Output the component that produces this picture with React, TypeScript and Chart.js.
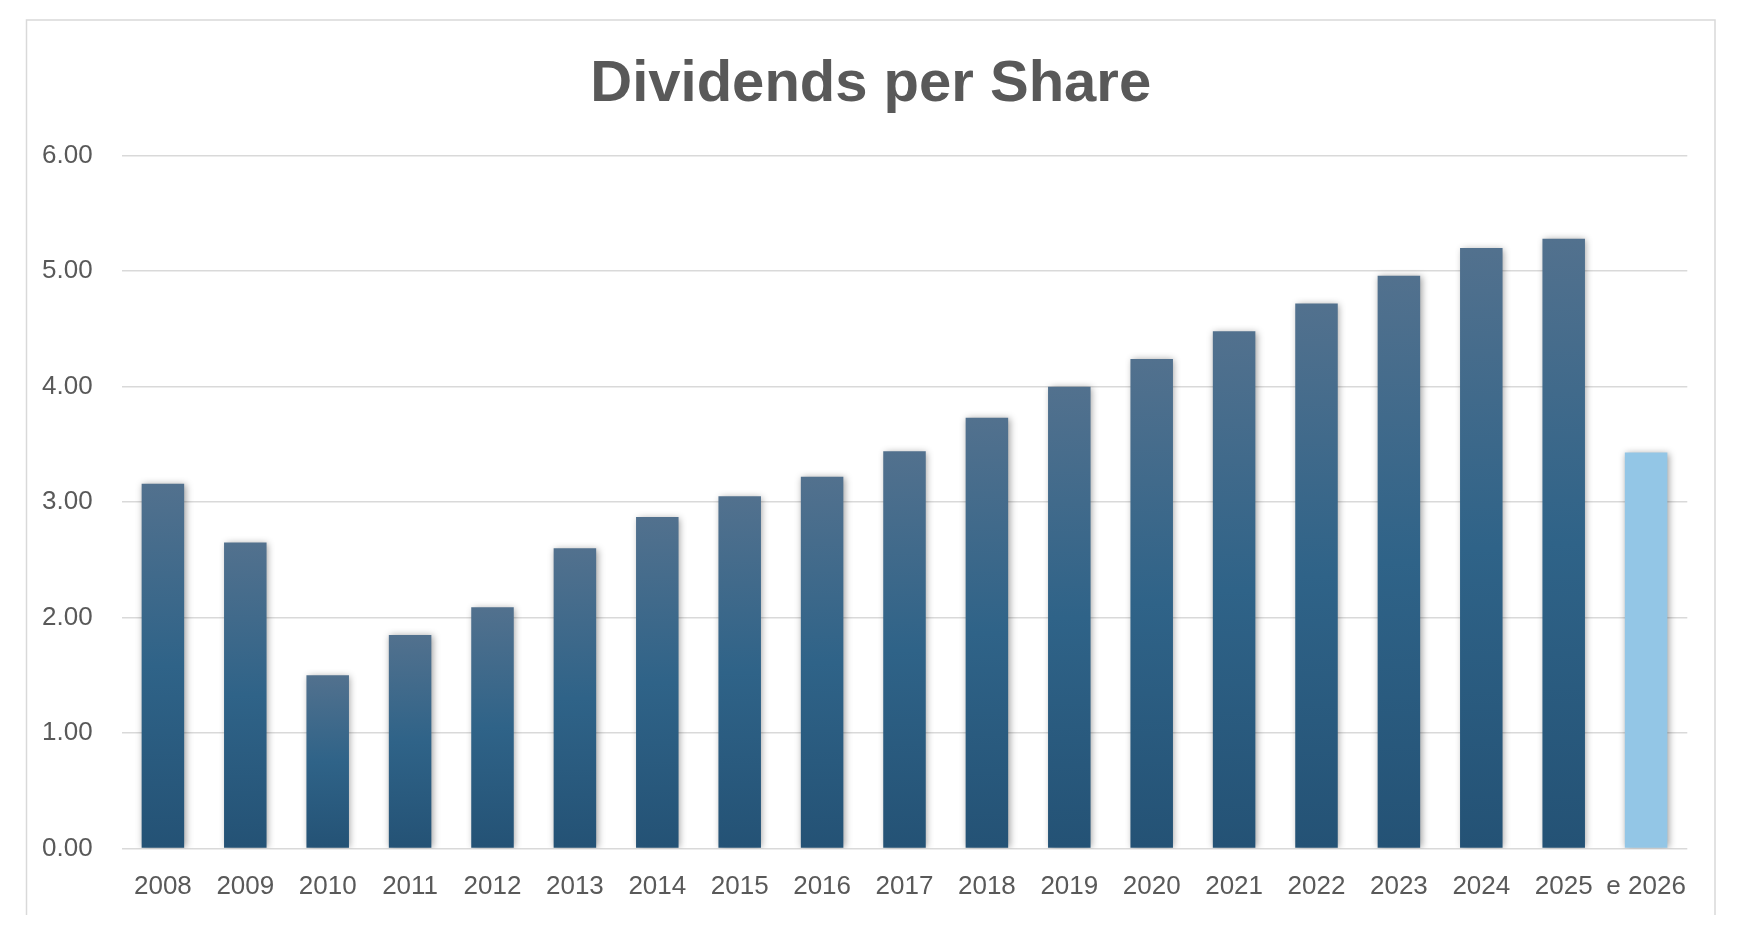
import React, { useEffect, useRef } from "react";
import { Chart, registerables } from "chart.js";

Chart.register(...registerables);

const TITLE = "Dividends per Share";
const categories = [
  "2008", "2009", "2010", "2011", "2012", "2013", "2014", "2015", "2016", "2017",
  "2018", "2019", "2020", "2021", "2022", "2023", "2024", "2025", "e 2026",
];
const dividends = [
  3.16, 2.65, 1.5, 1.85, 2.09, 2.6, 2.87, 3.05, 3.22, 3.44,
  3.73, 4.0, 4.24, 4.48, 4.72, 4.96, 5.2, 5.28, 3.43,
];
const estimated = [
  false, false, false, false, false, false, false, false, false, false,
  false, false, false, false, false, false, false, false, true,
];
const yTicks = [0, 1, 2, 3, 4, 5, 6];

const TEXT = "#595959";
const GRID = "#d9d9d9";
const ESTIMATE_COLOR = "#93c6e6";
const DARK = "#2a5a80";
const FONT = "'Liberation Sans', Arial, sans-serif";

const BOX = { left: 26.5, top: 20, right: 1715, bottom: 915 };

const frame = {
  id: "frame",
  beforeDraw(chart: any) {
    const c = chart.ctx;
    c.save();
    c.fillStyle = "#ffffff";
    c.fillRect(0, 0, chart.width, chart.height);
    c.strokeStyle = GRID;
    c.lineWidth = 1.5;
    c.beginPath();
    c.moveTo(BOX.left, BOX.bottom);
    c.lineTo(BOX.left, BOX.top);
    c.lineTo(BOX.right, BOX.top);
    c.lineTo(BOX.right, BOX.bottom);
    c.stroke();
    c.restore();
  },
  afterDraw(chart: any) {
    const c = chart.ctx;
    c.save();
    c.fillStyle = TEXT;
    c.font = `bold 58px ${FONT}`;
    c.textAlign = "center";
    c.textBaseline = "alphabetic";
    c.fillText(TITLE, (BOX.left + BOX.right) / 2, 101);
    c.restore();
  },
};

const barShadow = {
  id: "barShadow",
  beforeDatasetsDraw(chart: any) {
    const c = chart.ctx;
    c.save();
    c.shadowColor = "rgba(0,0,0,0.38)";
    c.shadowBlur = 7;
    c.shadowOffsetX = 1.5;
    c.shadowOffsetY = 0.5;
  },
  afterDatasetsDraw(chart: any) {
    chart.ctx.restore();
  },
};

export default function App() {
  const ref = useRef<HTMLCanvasElement | null>(null);

  useEffect(() => {
    if (!ref.current) return;
    const chart = new Chart(ref.current, {
      type: "bar",
      data: {
        labels: categories,
        datasets: [
          {
            label: TITLE,
            data: dividends,
            barPercentage: 0.516,
            categoryPercentage: 1,
            borderWidth: 0,
            backgroundColor: (ctx: any) => {
              const i = ctx.dataIndex;
              if (i === undefined) return DARK;
              if (estimated[i]) return ESTIMATE_COLOR;
              const ys = ctx.chart.scales?.y;
              if (!ys) return DARK;
              const top = ys.getPixelForValue(dividends[i]);
              const bottom = ys.getPixelForValue(0);
              if (!isFinite(top) || !isFinite(bottom) || top === bottom) return DARK;
              const g = ctx.chart.ctx.createLinearGradient(0, top, 0, bottom);
              g.addColorStop(0, "#52718e");
              g.addColorStop(0.5, "#2f6388");
              g.addColorStop(1, "#245275");
              return g;
            },
          },
        ],
      },
      options: {
        responsive: false,
        animation: false,
        devicePixelRatio: 1,
        layout: { padding: { left: 0, right: 56.7, top: 155.7, bottom: 0 } },
        plugins: {
          legend: { display: false },
          tooltip: { enabled: false },
          title: { display: false },
        },
        scales: {
          x: {
            grid: { display: false, drawTicks: false },
            border: { display: false },
            ticks: {
              color: TEXT,
              font: { family: FONT, size: 26, lineHeight: 1.2 },
              padding: 23,
              maxRotation: 0,
              autoSkip: false,
            },
            afterFit(scale: any) {
              scale.height = 101.5;
            },
          },
          y: {
            min: 0,
            max: 6,
            afterBuildTicks(scale: any) {
              scale.ticks = yTicks.map((v) => ({ value: v }));
            },
            grid: { color: GRID, lineWidth: 1.5, drawTicks: false },
            border: { display: false },
            ticks: {
              color: TEXT,
              font: { family: FONT, size: 26 },
              padding: 29,
              callback: (v: any) => Number(v).toFixed(2),
            },
            afterFit(scale: any) {
              scale.width = 121.7;
            },
          },
        },
      },
      plugins: [frame, barShadow],
    });
    return () => chart.destroy();
  }, []);

  return (
    <canvas
      ref={ref}
      width={1744}
      height={950}
      style={{ position: "absolute", left: 0, top: 0, width: 1744, height: 950 }}
    />
  );
}
